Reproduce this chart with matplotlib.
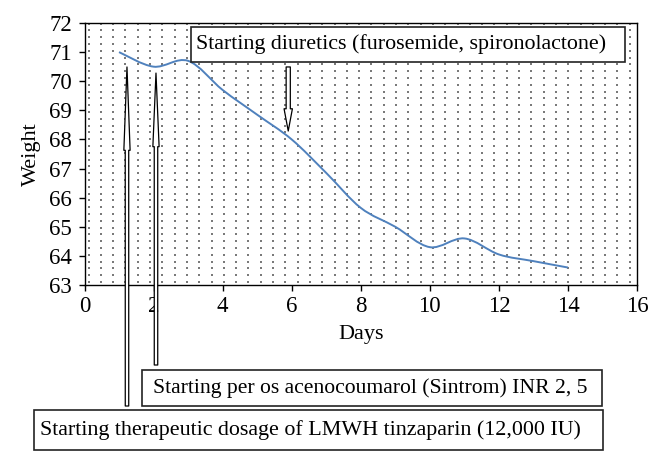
import matplotlib.pyplot as plt
import numpy as np
from matplotlib.path import Path
from matplotlib.patches import PathPatch, Rectangle

plt.rcParams['font.family'] = ['Liberation Serif', 'DejaVu Serif']

# data
days = [1, 2, 3, 4, 5, 6, 7, 8, 9, 10, 11, 12, 13, 14]
weight = [71.0, 70.5, 70.7, 69.7, 68.85, 68.0, 66.85, 65.65, 65.0, 64.3, 64.6, 64.05, 63.82, 63.6]
x_ticks = [0, 2, 4, 6, 8, 10, 12, 14, 16]
y_ticks = [63, 64, 65, 66, 67, 68, 69, 70, 71, 72]

label_diuretics = "Starting diuretics (furosemide, spironolactone)"
label_sintrom = "Starting per os acenocoumarol (Sintrom) INR 2, 5"
label_lmwh = "Starting therapeutic dosage of LMWH tinzaparin (12,000 IU)"

W, H = 660, 465
fig = plt.figure(figsize=(6.6, 4.65), dpi=100)
ax = fig.add_axes([84.5 / W, 1 - 285 / H, (637 - 84.5) / W, (285 - 23) / H])

# stippled plot area (background texture, axes fractions)
aw, ah = 637 - 84.5, 285 - 23
gx, gy = np.meshgrid(np.arange(4, aw, 12.3) / aw, np.arange(3, ah, 6.8) / ah)
ax.scatter(gx.ravel(), gy.ravel(), s=0.8, marker='s', c='#7a7a7a', lw=0,
           transform=ax.transAxes, zorder=1)

# smooth line (excel style bezier through points)
x = np.array(days, dtype=float)
y = np.array(weight, dtype=float)
verts = [(x[0], y[0])]
codes = [Path.MOVETO]
for i in range(len(x) - 1):
    p0 = np.array([x[max(i - 1, 0)], y[max(i - 1, 0)]])
    p1 = np.array([x[i], y[i]])
    p2 = np.array([x[i + 1], y[i + 1]])
    p3 = np.array([x[min(i + 2, len(x) - 1)], y[min(i + 2, len(x) - 1)]])
    c1 = p1 + (p2 - p0) / 6
    c2 = p2 - (p3 - p1) / 6
    verts += [tuple(c1), tuple(c2), tuple(p2)]
    codes += [Path.CURVE4] * 3
ax.add_patch(PathPatch(Path(verts, codes), fc='none', ec='#4f81bd', lw=1.4, zorder=3))

ax.set_xlim(0, 16)
ax.set_ylim(63, 72)
ax.set_xticks(x_ticks)
ax.set_yticks(y_ticks)
ax.tick_params(direction='out', length=4, width=1, labelsize=16.5)
ax.tick_params(axis='y', pad=5)
ax.tick_params(axis='x', pad=4)
for s in ax.spines.values():
    s.set_linewidth(1)
ax.set_xlabel('Days', fontsize=16, labelpad=6)
ax.set_ylabel('Weight', fontsize=16, labelpad=6)

# arrows
def hollow_arrow(xy, xytext, tcoords, head_len, head_w, tail_w):
    ax.annotate('', xy=xy, xycoords='data', xytext=xytext, textcoords=tcoords,
                annotation_clip=False,
                arrowprops=dict(arrowstyle='simple,head_length=%g,head_width=%g,tail_width=%g'
                                % (head_len, head_w, tail_w),
                                mutation_scale=1, fc='white', ec='black', lw=0.9,
                                shrinkA=0, shrinkB=0, zorder=5))

hollow_arrow((1.23, 70.49), (127, H - 406), 'figure pixels', 60, 4.5, 2.5)
hollow_arrow((2.07, 70.28), (156, H - 365), 'figure pixels', 53, 4.5, 2.5)
hollow_arrow((5.9, 68.29), (5.9, 70.49), 'data', 16, 6, 3)

# text boxes (pixel positions from top-left)
def text_box(x0, y0, x1, y1, tx, txt, size):
    fig.add_artist(Rectangle((x0 / W, 1 - y1 / H), (x1 - x0) / W, (y1 - y0) / H,
                             transform=fig.transFigure, fc='white', ec='#222222',
                             lw=1.2, zorder=6))
    fig.text(tx / W, 1 - (y0 + y1) / 2 / H, txt, fontsize=size, ha='left',
             va='center', zorder=7)

text_box(191, 27, 625, 62, 196, label_diuretics, 15.8)
text_box(142, 370, 602, 406, 153, label_sintrom, 15.6)
text_box(34, 410, 603, 450, 40, label_lmwh, 15.8)

fig.savefig('out.png', dpi=100)
